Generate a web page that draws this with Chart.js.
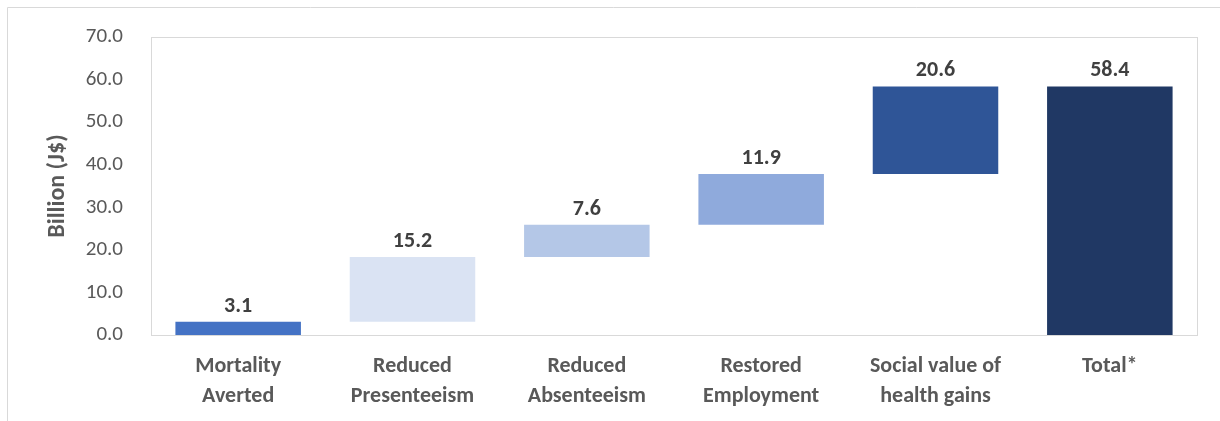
<!DOCTYPE html>
<html>
<head>
<meta charset="utf-8">
<script src="https://cdn.jsdelivr.net/npm/chart.js@4/dist/chart.umd.min.js"></script>
<style>
  html, body { margin: 0; padding: 0; background: #fff; }
  #wrap { width: 1220px; height: 421px; position: relative; }
</style>
</head>
<body>
<div id="wrap"><canvas id="chart" width="1220" height="421"></canvas></div>
<script>
// data
const categories = [
    ['Mortality', 'Averted'],
    ['Reduced', 'Presenteeism'],
    ['Reduced', 'Absenteeism'],
    ['Restored', 'Employment'],
    ['Social value of', 'health gains'],
    ['Total*']
];
const increments = [3.1, 15.2, 7.6, 11.9, 20.6, 58.4];
const bases = [0, 3.1, 18.3, 25.9, 37.8, 0];
const tops = [3.1, 18.3, 25.9, 37.8, 58.4, 58.4];
const yTicks = [0, 10, 20, 30, 40, 50, 60, 70];

const barColors = ['#4472C4', '#DAE3F3', '#B4C7E7', '#8FAADC', '#2F5597', '#203864'];
const FONT = 'Carlito, Calibri, Lato, "Noto Sans", sans-serif';

const frame = {
    id: 'frame',
    beforeDraw(chart) {
        const ctx = chart.ctx;
        const a = chart.chartArea;
        ctx.save();
        ctx.strokeStyle = '#D9D9D9';
        ctx.lineWidth = 1;
        // outer chart border (only top/left visible)
        ctx.beginPath();
        ctx.moveTo(7.5, 421);
        ctx.lineTo(7.5, 7.5);
        ctx.lineTo(1220, 7.5);
        ctx.stroke();
        // plot area border
        ctx.strokeRect(Math.round(a.left) + 0.5, Math.round(a.top) + 0.5,
            Math.round(a.right - a.left), Math.round(a.bottom - a.top));
        ctx.restore();
    }
};

const valueLabels = {
    id: 'valueLabels',
    afterDatasetsDraw(chart) {
        const ctx = chart.ctx;
        const meta = chart.getDatasetMeta(0);
        ctx.save();
        ctx.font = 'bold 22px ' + FONT;
        ctx.fillStyle = '#404040';
        ctx.textAlign = 'center';
        ctx.textBaseline = 'alphabetic';
        meta.data.forEach((bar, i) => {
            ctx.fillText(increments[i].toFixed(1), bar.x, bar.y - 10);
        });
        ctx.restore();
    }
};

new Chart(document.getElementById('chart'), {
    type: 'bar',
    data: {
        labels: categories,
        datasets: [{
            data: bases.map((b, i) => [b, tops[i]]),
            backgroundColor: barColors,
            borderWidth: 0,
            categoryPercentage: 1,
            barPercentage: 0.72
        }]
    },
    options: {
        responsive: false,
        animation: false,
        layout: { padding: { left: 36, top: 37, right: 23, bottom: 0 } },
        plugins: { legend: { display: false }, tooltip: { enabled: false } },
        scales: {
            x: {
                grid: { display: false, drawTicks: false },
                border: { display: false },
                ticks: {
                    color: '#595959',
                    font: { family: FONT, size: 22, weight: 'bold', lineHeight: 1.36 },
                    padding: 17,
                    maxRotation: 0,
                    autoSkip: false
                },
                afterFit(scale) { scale.height = 86; }
            },
            y: {
                min: 0,
                max: 70,
                afterBuildTicks(scale) { scale.ticks = yTicks.map(v => ({ value: v })); },
                grid: { display: false, drawTicks: false },
                border: { display: false },
                ticks: {
                    color: '#595959',
                    font: { family: FONT, size: 21 },
                    padding: 28,
                    callback: v => v.toFixed(1)
                },
                title: {
                    display: true,
                    text: 'Billion (J$)',
                    color: '#595959',
                    font: { family: FONT, size: 24, weight: 'bold' },
                    padding: { top: 8, bottom: 0 }
                },
                afterFit(scale) {
                    scale.width = 151 - 36;
                    scale.paddingTop = 0;
                    scale.paddingBottom = 0;
                }
            }
        }
    },
    plugins: [frame, valueLabels]
});
</script>
</body>
</html>
